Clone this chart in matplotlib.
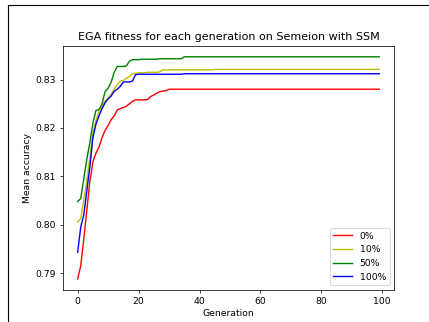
import numpy as np
import matplotlib
matplotlib.use('Agg')
import matplotlib.pyplot as plt
from matplotlib.lines import Line2D

# Mean accuracy per generation
generations = list(range(100))

acc_0 = ([0.7888, 0.7915, 0.7970, 0.8030, 0.8090, 0.8130, 0.8148, 0.8160, 0.8180, 0.8195,
          0.8205, 0.8217, 0.8225, 0.8237, 0.8240, 0.8242, 0.8245, 0.8250, 0.8255, 0.8258,
          0.8258, 0.8258, 0.8258, 0.8259, 0.8265, 0.8268, 0.8272, 0.8275, 0.8276, 0.8277]
         + [0.8280] * 70)

acc_10 = ([0.8005, 0.8013, 0.8050, 0.8090, 0.8140, 0.8190, 0.8215, 0.8235, 0.8245, 0.8256,
           0.8262, 0.8270, 0.8280, 0.8290, 0.8297, 0.8298, 0.8303, 0.8306, 0.8312, 0.8313,
           0.8314, 0.8314, 0.8314, 0.8315, 0.8315, 0.8315, 0.8315, 0.8316]
          + [0.8320] * 17 + [0.8321] * 55)

acc_50 = ([0.8048, 0.8054, 0.8095, 0.8135, 0.8170, 0.8210, 0.8236, 0.8238, 0.8250, 0.8275,
           0.8282, 0.8295, 0.8315, 0.8327, 0.8327, 0.8327, 0.8328, 0.8338, 0.8341, 0.8341,
           0.8341, 0.8342, 0.8342, 0.8342, 0.8342, 0.8342, 0.8342]
          + [0.8343] * 8 + [0.8347] * 65)

acc_100 = ([0.7943, 0.7995, 0.8020, 0.8070, 0.8120, 0.8180, 0.8208, 0.8225, 0.8240, 0.8252,
            0.8260, 0.8266, 0.8276, 0.8280, 0.8286, 0.8295, 0.8295, 0.8295, 0.8297, 0.8310]
           + [0.8311] * 15 + [0.8312] * 65)

series = [('0%', acc_0, 'r'), ('10%', acc_10, 'y'), ('50%', acc_50, 'g'), ('100%', acc_100, 'b')]

fig = plt.figure(figsize=(429 / 67, 322 / 67), dpi=67)

# screenshot frame of the original window
fig.add_artist(Line2D([8 / 429, 1], [1 - 5 / 322, 1 - 5 / 322], color='black', lw=1.2,
                      transform=fig.transFigure))
fig.add_artist(Line2D([8 / 429, 8 / 429], [0, 1 - 5 / 322], color='black', lw=1.2,
                      transform=fig.transFigure))

ax = fig.add_axes([62.6 / 429, 1 - 290 / 322, (394.3 - 62.6) / 429, (290 - 45.7) / 322])
for label, vals, c in series:
    ax.plot(generations, vals, color=c, label=label)

ax.set_title('EGA fitness for each generation on Semeion with SSM')
ax.set_xlabel('Generation')
ax.set_ylabel('Mean accuracy')
ax.set_yticks([0.79, 0.80, 0.81, 0.82, 0.83])
ax.legend(loc='lower right')

fig.savefig('out.png', dpi=67)
